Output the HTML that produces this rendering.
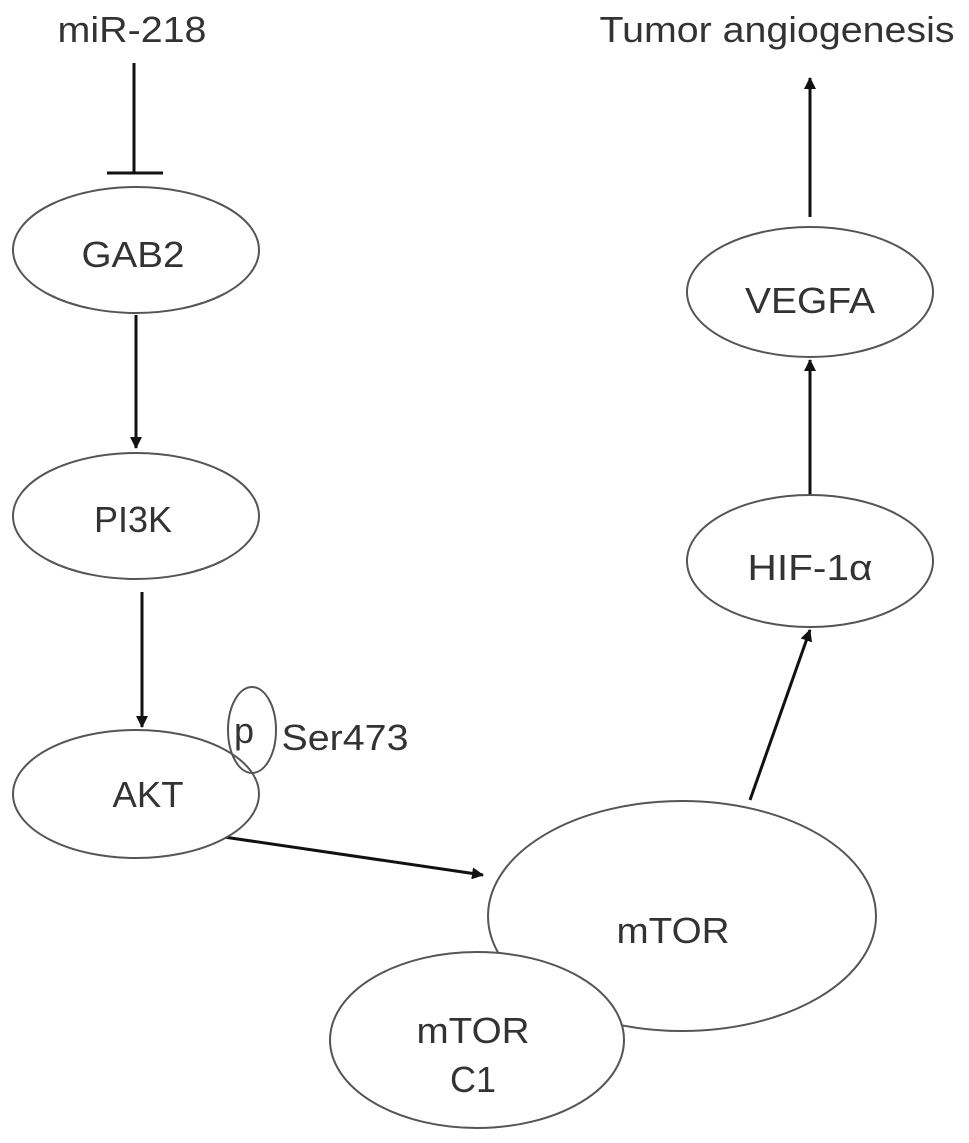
<!DOCTYPE html>
<html><head><meta charset="utf-8"><style>html,body{margin:0;padding:0;background:#fff}svg{display:block}</style></head>
<body>
<svg width="969" height="1143" viewBox="0 0 969 1143" xmlns="http://www.w3.org/2000/svg">
<defs>
<marker id="a" markerWidth="12" markerHeight="12" refX="11" refY="6" orient="auto" markerUnits="userSpaceOnUse"><path d="M0,0 L12,6 L0,12 z" fill="#111"/></marker>
</defs>
<g stroke="#111" stroke-width="3" fill="none">
<line x1="134" y1="63" x2="134" y2="173"/>
<line x1="107" y1="173" x2="163" y2="173"/>
<line x1="136" y1="315" x2="136" y2="448" marker-end="url(#a)"/>
<line x1="142" y1="592" x2="142" y2="727" marker-end="url(#a)"/>
<line x1="224" y1="837" x2="483" y2="875" marker-end="url(#a)"/>
<line x1="750" y1="800" x2="810" y2="630" marker-end="url(#a)"/>
<line x1="810" y1="495" x2="810" y2="360" marker-end="url(#a)"/>
<line x1="810" y1="217" x2="810" y2="78" marker-end="url(#a)"/>
</g>
<g stroke="#555" stroke-width="2" fill="#fff">
<ellipse cx="136" cy="250" rx="123" ry="63"/>
<ellipse cx="136" cy="516" rx="123" ry="63"/>
<ellipse cx="136" cy="794" rx="123" ry="64"/>
<ellipse cx="252" cy="730" rx="24" ry="43" fill="none"/>
<ellipse cx="810" cy="292" rx="123" ry="65"/>
<ellipse cx="810" cy="561" rx="123" ry="66"/>
<ellipse cx="682" cy="916" rx="194" ry="115"/>
<ellipse cx="477" cy="1040" rx="147" ry="88"/>
</g>
<g font-family="Liberation Sans, sans-serif" font-size="36" fill="#333" text-anchor="middle">
<text x="132" y="42" textLength="149" lengthAdjust="spacingAndGlyphs">miR-218</text>
<text x="777" y="42" textLength="355" lengthAdjust="spacingAndGlyphs">Tumor angiogenesis</text>
<text x="133" y="267" textLength="103" lengthAdjust="spacingAndGlyphs">GAB2</text>
<text x="133" y="532">PI3K</text>
<text x="148" y="807" textLength="71" lengthAdjust="spacingAndGlyphs">AKT</text>
<text x="244" y="743">p</text>
<text x="345" y="750" textLength="127" lengthAdjust="spacingAndGlyphs">Ser473</text>
<text x="810" y="313" textLength="130" lengthAdjust="spacingAndGlyphs">VEGFA</text>
<text x="810" y="580" textLength="125" lengthAdjust="spacingAndGlyphs">HIF-1α</text>
<text x="673" y="943" textLength="113" lengthAdjust="spacingAndGlyphs">mTOR</text>
<text x="473" y="1043" textLength="113" lengthAdjust="spacingAndGlyphs">mTOR</text>
<text x="473" y="1092">C1</text>
</g>
</svg>
</body></html>
